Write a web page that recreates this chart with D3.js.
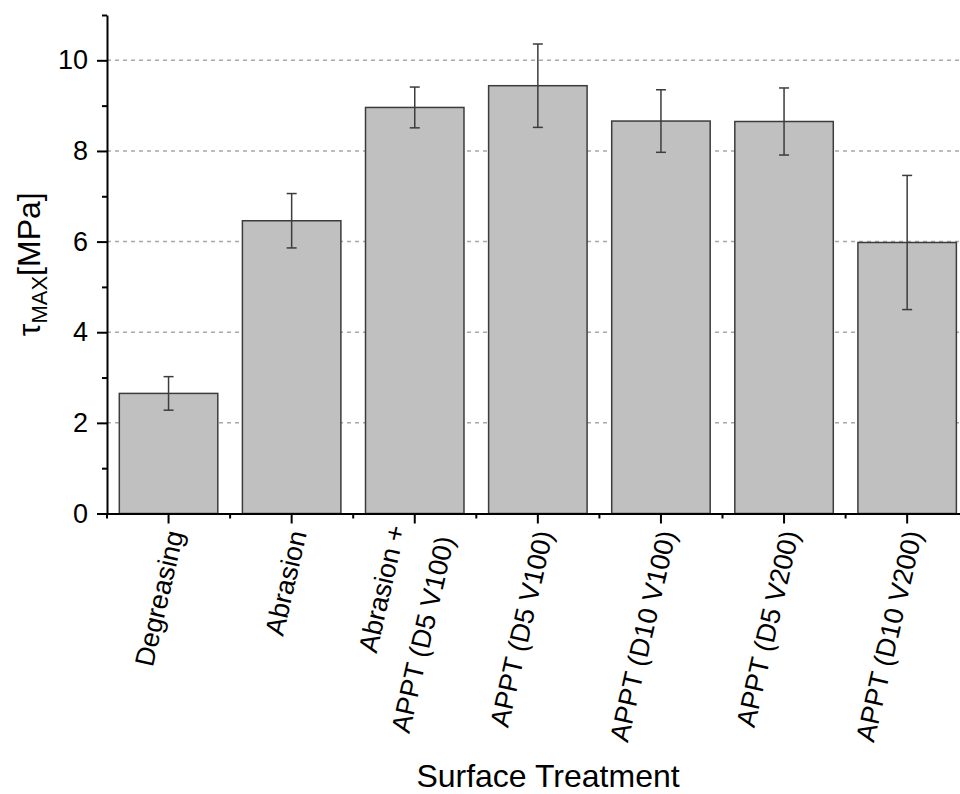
<!DOCTYPE html>
<html>
<head>
<meta charset="utf-8">
<script src="https://cdn.jsdelivr.net/npm/d3@7"></script>
<style>
  body { margin: 0; background: #fff; }
  svg { display: block; font-family: 'Liberation Sans', Arial, sans-serif; }
</style>
</head>
<body>
<div id="chart"></div>
<script>
// data
const categories = [
  ['Degreasing'],
  ['Abrasion'],
  ['Abrasion +', 'APPT (D5 V100)'],
  ['APPT (D5 V100)'],
  ['APPT (D10 V100)'],
  ['APPT (D5 V200)'],
  ['APPT (D10 V200)']
];
const meanValues = [2.65, 6.46, 8.96, 9.44, 8.66, 8.65, 5.98];
const errorValues = [0.37, 0.60, 0.45, 0.92, 0.69, 0.74, 1.48];
const yMajorTicks = [0, 2, 4, 6, 8, 10];
const yMinorTicks = [1, 3, 5, 7, 9, 11];
const gridValues = [2, 4, 6, 8, 10];
const xTitle = 'Surface Treatment';

const option = {
  width: 960,
  height: 794,
  left: 107,
  right: 968.7,
  top: 15,
  bottom: 513.5
};

const data = categories.map((lines, i) => ({
  key: lines.join(' '),
  lines,
  mean: meanValues[i],
  err: errorValues[i]
}));

const svg = d3.select('#chart')
    .append('svg')
    .attr('width', option.width)
    .attr('height', option.height);

const x = d3.scaleBand()
    .domain(data.map((d) => d.key))
    .range([option.left, option.right])
    .paddingInner(0.2)
    .paddingOuter(0.1);

const y = d3.scaleLinear()
    .domain([0, 11])
    .range([option.bottom, option.top]);

// dashed grid, behind the bars
svg.append('g')
    .selectAll('line')
    .data(gridValues)
    .join('line')
    .attr('x1', option.left)
    .attr('x2', option.width)
    .attr('y1', (d) => y(d))
    .attr('y2', (d) => y(d))
    .attr('stroke', '#a8a8a8')
    .attr('stroke-width', 1.5)
    .attr('stroke-dasharray', '4,4');

// bars
svg.append('g')
    .selectAll('rect')
    .data(data)
    .join('rect')
    .attr('x', (d) => x(d.key))
    .attr('y', (d) => y(d.mean))
    .attr('width', x.bandwidth())
    .attr('height', (d) => y(0) - y(d.mean))
    .attr('fill', '#c0c0c0')
    .attr('stroke', '#3c3c3c')
    .attr('stroke-width', 1.5);

// error bars
const errG = svg.append('g')
    .attr('stroke', '#3c3c3c')
    .attr('stroke-width', 1.5);
const cx = (d) => x(d.key) + x.bandwidth() / 2;
errG.selectAll('.stem')
    .data(data)
    .join('line')
    .attr('class', 'stem')
    .attr('x1', cx).attr('x2', cx)
    .attr('y1', (d) => y(d.mean + d.err))
    .attr('y2', (d) => y(d.mean - d.err));
errG.selectAll('.capTop')
    .data(data)
    .join('line')
    .attr('class', 'capTop')
    .attr('x1', (d) => cx(d) - 5).attr('x2', (d) => cx(d) + 5)
    .attr('y1', (d) => y(d.mean + d.err))
    .attr('y2', (d) => y(d.mean + d.err));
errG.selectAll('.capBottom')
    .data(data)
    .join('line')
    .attr('class', 'capBottom')
    .attr('x1', (d) => cx(d) - 5).attr('x2', (d) => cx(d) + 5)
    .attr('y1', (d) => y(d.mean - d.err))
    .attr('y2', (d) => y(d.mean - d.err));

// y axis
const yAxis = d3.axisLeft(y)
    .tickValues(yMajorTicks)
    .tickSize(10)
    .tickSizeOuter(0)
    .tickPadding(9);
const gy = svg.append('g')
    .attr('transform', `translate(${option.left},0)`)
    .call(yAxis);
gy.selectAll('text').attr('font-size', 27).attr('font-family', 'Liberation Sans, Arial, sans-serif').attr('fill', '#000');

svg.append('g')
    .attr('transform', `translate(${option.left},0)`)
    .call(d3.axisLeft(y).tickValues(yMinorTicks).tickSize(5).tickFormat(''))
    .call((g) => g.select('.domain').remove());

// x axis
svg.append('g')
    .attr('transform', `translate(0,${option.bottom})`)
    .call(d3.axisBottom(x).tickSize(10).tickSizeOuter(0).tickFormat(''));

// minor ticks on category boundaries
svg.append('g')
    .selectAll('line')
    .data(d3.range(data.length + 1))
    .join('line')
    .attr('x1', (k) => option.left + k * x.step())
    .attr('x2', (k) => option.left + k * x.step())
    .attr('y1', option.bottom)
    .attr('y2', option.bottom + 5)
    .attr('stroke', '#000')
    .attr('stroke-width', 2);

svg.selectAll('.domain, .tick line')
    .attr('stroke', '#000')
    .attr('stroke-width', 2);

// slanted category labels
const labels = svg.append('g')
    .selectAll('text')
    .data(data)
    .join('text')
    .attr('transform', (d) => `translate(${cx(d) + 6},531) rotate(-77)`)
    .attr('text-anchor', 'end')
    .attr('font-size', 27)
    .attr('fill', '#000');
labels.selectAll('tspan')
    .data((d) => d.lines.map((t, i) => ({t, off: (i - (d.lines.length - 1) / 2) * 50})))
    .join('tspan')
    .attr('x', 0)
    .attr('y', (l) => l.off)
    .attr('dy', '0.35em')
    .text((l) => l.t);

// axis titles
svg.append('text')
    .attr('text-anchor', 'middle')
    .attr('font-size', 32)
    .attr('x', 548)
    .attr('y', 787)
    .text(xTitle);

const yTitle = svg.append('text')
    .attr('transform', `translate(40,${(option.top + option.bottom) / 2}) rotate(-90)`)
    .attr('text-anchor', 'middle')
    .attr('font-size', 32);
yTitle.append('tspan').text('τ');
yTitle.append('tspan').attr('font-size', 22).attr('dy', 7).text('MAX');
yTitle.append('tspan').attr('dy', -7).text('[MPa]');
</script>
</body>
</html>
